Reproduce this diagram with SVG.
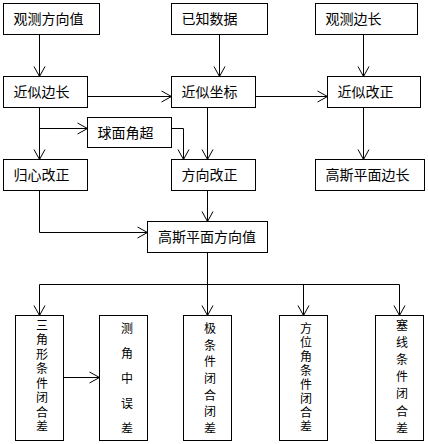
<svg xmlns="http://www.w3.org/2000/svg" width="428" height="444" viewBox="0 0 428 444">
<defs>
<marker id="arr" markerUnits="userSpaceOnUse" markerWidth="14" markerHeight="14" viewBox="-1 -7 13 14" refX="10" refY="0" orient="auto">
<path d="M0,-5.5 L10,0 L0,5.5" fill="none" stroke="#000" stroke-width="1"/>
</marker>
<style>
rect{fill:#fff;stroke:#000;stroke-width:1}
text{font-family:"Noto Sans CJK SC","Noto Sans",sans-serif;fill:#000}
.h{font-size:14px}
.v{font-size:12px;text-anchor:middle}
#connectors path{fill:none;stroke:#000;stroke-width:1}
.a{marker-end:url(#arr)}
</style>
</defs>
<rect x="0" y="0" width="428" height="444" style="stroke:none;fill:#fff"/>
<g id="connectors">
<path class="a" d="M39.5,34.5 V76.5"/>
<path class="a" d="M219.5,34.5 V76.5"/>
<path class="a" d="M363.5,34.5 V76.5"/>
<path class="a" d="M87.5,96.5 H171.5"/>
<path class="a" d="M255.5,96.5 H327.5"/>
<path class="a" d="M39.5,107.5 V159.5"/>
<path class="a" d="M39.5,128.5 H87.5"/>
<path class="a" d="M171.5,128.5 H183.5 V159.5"/>
<path class="a" d="M207.5,107.5 V159.5"/>
<path class="a" d="M363.5,107.5 V159.5"/>
<path class="a" d="M39.5,190.5 V232.5 H147.5"/>
<path class="a" d="M207.5,190.5 V221.5"/>
<path class="a" d="M207.5,252.5 V315.5"/>
<path d="M39.5,284.5 H399.5"/>
<path class="a" d="M39.5,284.5 V315.5"/>
<path class="a" d="M303.5,284.5 V315.5"/>
<path class="a" d="M399.5,284.5 V315.5"/>
<path class="a" d="M63.5,377.5 H99.5"/>
</g>
<g id="n1"><rect x="3.5" y="3.5" width="96" height="31"/><text class="h" x="13.5" y="24">观测方向值</text></g>
<g id="n2"><rect x="171.5" y="3.5" width="96" height="31"/><text class="h" x="181.5" y="24">已知数据</text></g>
<g id="n3"><rect x="315.5" y="3.5" width="102" height="31"/><text class="h" x="325.5" y="24">观测边长</text></g>
<g id="n4"><rect x="3.5" y="76.5" width="84" height="31"/><text class="h" x="13.5" y="97">近似边长</text></g>
<g id="n5"><rect x="171.5" y="76.5" width="84" height="31"/><text class="h" x="181.5" y="97">近似坐标</text></g>
<g id="n6"><rect x="327.5" y="76.5" width="93" height="31"/><text class="h" x="337.5" y="97">近似改正</text></g>
<g id="n7"><rect x="87.5" y="117.5" width="84" height="30"/><text class="h" x="97.5" y="138">球面角超</text></g>
<g id="n8"><rect x="3.5" y="159.5" width="84" height="31"/><text class="h" x="13.5" y="180">归心改正</text></g>
<g id="n9"><rect x="171.5" y="159.5" width="84" height="31"/><text class="h" x="181.5" y="180">方向改正</text></g>
<g id="n10"><rect x="315.5" y="159.5" width="109" height="31"/><text class="h" x="325.5" y="180">高斯平面边长</text></g>
<g id="n11"><rect x="147.5" y="221.5" width="120" height="31"/><text class="h" x="158" y="242">高斯平面方向值</text></g>
<g id="b1"><rect x="15.5" y="315.5" width="48" height="125"/>
<text class="v"><tspan x="42" y="329.6">三</tspan><tspan x="42" y="344.1">角</tspan><tspan x="42" y="358.6">形</tspan><tspan x="42" y="373.1">条</tspan><tspan x="42" y="387.6">件</tspan><tspan x="42" y="402.1">闭</tspan><tspan x="42" y="416.6">合</tspan><tspan x="42" y="431.1">差</tspan></text></g>
<g id="b2"><rect x="99.5" y="315.5" width="48" height="125"/>
<text class="v"><tspan x="127" y="332.6">测</tspan><tspan x="127" y="357.6">角</tspan><tspan x="127" y="382.6">中</tspan><tspan x="127" y="407.6">误</tspan><tspan x="127" y="432.6">差</tspan></text></g>
<g id="b3"><rect x="183.5" y="315.5" width="48" height="125"/>
<text class="v"><tspan x="210" y="332.9">极</tspan><tspan x="210" y="349.6">条</tspan><tspan x="210" y="366.2">件</tspan><tspan x="210" y="382.9">闭</tspan><tspan x="210" y="399.6">合</tspan><tspan x="210" y="416.2">闭</tspan><tspan x="210" y="432.9">差</tspan></text></g>
<g id="b4"><rect x="279.5" y="315.5" width="48" height="125"/>
<text class="v"><tspan x="306" y="332.6">方</tspan><tspan x="306" y="346.7">位</tspan><tspan x="306" y="360.8">角</tspan><tspan x="306" y="374.9">条</tspan><tspan x="306" y="389">件</tspan><tspan x="306" y="403.1">闭</tspan><tspan x="306" y="417.2">合</tspan><tspan x="306" y="431.3">差</tspan></text></g>
<g id="b5"><rect x="375.5" y="315.5" width="48" height="125"/>
<text class="v"><tspan x="402" y="329.6">塞</tspan><tspan x="402" y="346.8">线</tspan><tspan x="402" y="364">条</tspan><tspan x="402" y="381.2">件</tspan><tspan x="402" y="398.4">闭</tspan><tspan x="402" y="415.6">合</tspan><tspan x="402" y="432.8">差</tspan></text></g>
</svg>
